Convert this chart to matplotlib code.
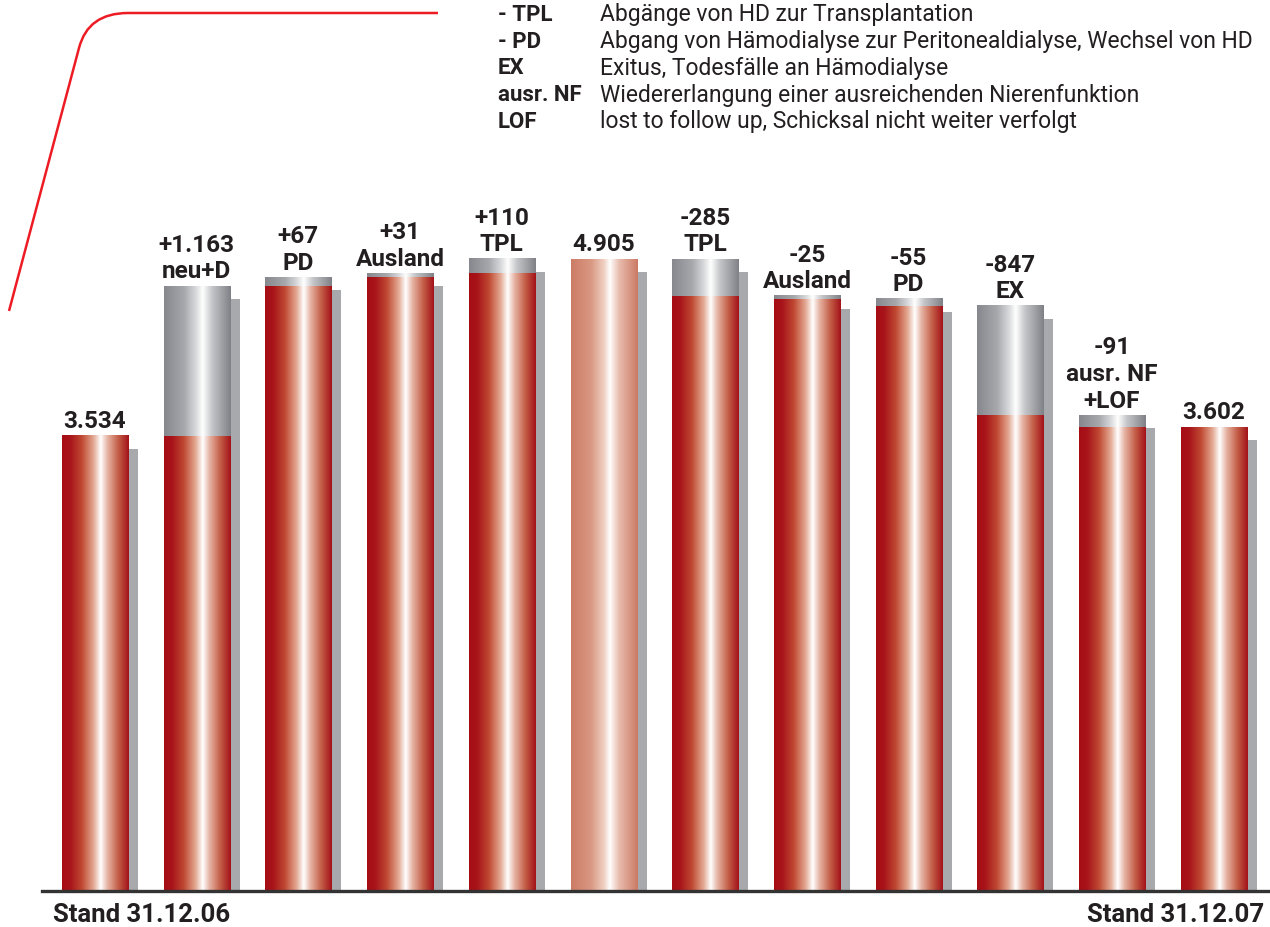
import numpy as np
import matplotlib
matplotlib.use("Agg")
import matplotlib.pyplot as plt
from matplotlib.colors import LinearSegmentedColormap
from matplotlib.path import Path
from matplotlib.patches import PathPatch
from matplotlib.transforms import ScaledTranslation

plt.rcParams["font.family"] = ["Roboto", "DejaVu Sans"]

# waterfall data
start_value = 3534
step_values = [1163, 67, 31, 110, None, -285, -25, -55, -847, -91]
bar_labels = ["3.534", "+1.163\nneu+D", "+67\nPD", "+31\nAusland", "+110\nTPL",
              "4.905", "-285\nTPL", "-25\nAusland", "-55\nPD", "-847\nEX",
              "-91\nausr. NF\n+LOF", "3.602"]
bottom_left = "Stand 31.12.06"
bottom_right = "Stand 31.12.07"

legend_keys = ["- TPL", "- PD", "EX", "ausr. NF", "LOF"]
legend_texts = ["Abgänge von HD zur Transplantation",
                "Abgang von Hämodialyse zur Peritonealdialyse, Wechsel von HD",
                "Exitus, Todesfälle an Hämodialyse",
                "Wiedererlangung einer ausreichenden Nierenfunktion",
                "lost to follow up, Schicksal nicht weiter verfolgt"]

# build bar segments: (red_top, gray_bottom, gray_top, kind)
segments = [(start_value, None, None, "red")]
level = start_value
for s in step_values:
    if s is None:
        segments.append((level, None, None, "sum"))
    elif s > 0:
        segments.append((level, level, level + s, "red"))
        level += s
    else:
        segments.append((level + s, level + s, level, "red"))
        level += s
segments.append((level, None, None, "red"))

red_cm = LinearSegmentedColormap.from_list("red", [
    (0.0, "#a50d13"), (0.12, "#a8141a"), (0.3, "#c04a33"), (0.47, "#e2a892"),
    (0.58, "#ffffff"), (0.68, "#e6b4a4"), (0.85, "#c25a44"), (1.0, "#a3121a")])
gray_cm = LinearSegmentedColormap.from_list("gray", [
    (0.0, "#86888d"), (0.3, "#a6a8ac"), (0.47, "#d6d7d9"), (0.58, "#ffffff"),
    (0.72, "#c4c5c8"), (1.0, "#7f8186")])
sum_cm = LinearSegmentedColormap.from_list("sum", [
    (0.0, "#cc7c66"), (0.3, "#d99883"), (0.5, "#f0d2c6"), (0.58, "#ffffff"),
    (0.72, "#e8bcae"), (1.0, "#cb7a63")])
grad = np.linspace(0, 1, 256).reshape(1, -1)

W, H = 1270, 927
fig = plt.figure(figsize=(W / 100, H / 100), dpi=100)
base_px = 891
ax = fig.add_axes([42 / W, (H - base_px) / H, 1228 / W, base_px / H])
ax.axis("off")
ax.axhline(0, color="#333333", lw=2.4, clip_on=False, zorder=5)

bw = 0.649
shadow_off = ax.transData + ScaledTranslation(10 / 100, -13 / 100, fig.dpi_scale_trans)
for i, (red_top, g0, g1, kind) in enumerate(segments):
    top = g1 if g1 is not None else red_top
    ax.bar(i, top, width=bw, color="#a7a9ac", transform=shadow_off, zorder=1)
    cm = sum_cm if kind == "sum" else red_cm
    ax.imshow(grad, cmap=cm, aspect="auto", zorder=2,
              extent=(i - bw / 2, i + bw / 2, 0, red_top))
    if g1 is not None:
        ax.imshow(grad, cmap=gray_cm, aspect="auto", zorder=2,
                  extent=(i - bw / 2, i + bw / 2, g0, g1))
    ax.annotate(bar_labels[i], (i, top), xytext=(0, 2), textcoords="offset points",
                ha="center", va="bottom", fontsize=17.5, fontweight="bold",
                color="#231f20", linespacing=1.2)

ax.set_xlim(-0.521, 11.553)
ax.set_ylim(0, 891 / 0.1288)

fig.text(53 / W, 1 - 915 / H, bottom_left, ha="left", va="center",
         fontsize=18.5, fontweight="bold", color="#231f20")
fig.text(1264 / W, 1 - 915 / H, bottom_right, ha="right", va="center",
         fontsize=18.5, fontweight="bold", color="#231f20")

for k, (key, txt) in enumerate(zip(legend_keys, legend_texts)):
    y = 1 - (15 + k * 26.7) / H
    fig.text(498 / W, y, key, ha="left", va="center", fontsize=16,
             fontweight="bold", color="#231f20")
    fig.text(600 / W, y, txt, ha="left", va="center", fontsize=16.5,
             color="#231f20")

# decorative red bracket line
pts = [(9, 311), (79, 48), (88, 13), (128, 13), (438, 13)]
verts = [(x / W, 1 - y / H) for x, y in pts]
codes = [Path.MOVETO, Path.LINETO, Path.CURVE3, Path.CURVE3, Path.LINETO]
fig.add_artist(PathPatch(Path(verts, codes), transform=fig.transFigure,
                         fill=False, edgecolor="#ed1c24", lw=1.8))

fig.savefig("out.png", dpi=100)
